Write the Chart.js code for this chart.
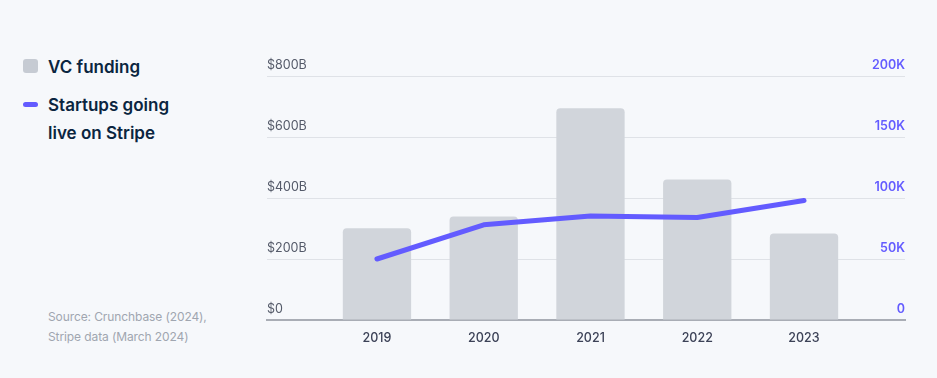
<!DOCTYPE html>
<html>
<head>
<meta charset="utf-8">
<script src="https://cdn.jsdelivr.net/npm/chart.js@4.4.1/dist/chart.umd.min.js"></script>
<style>
  html, body { margin: 0; padding: 0; }
  body { width: 937px; height: 378px; background: #f6f8fb; position: relative; overflow: hidden; font-family: Inter, "Noto Sans", sans-serif; }
  #wrap { position: absolute; left: 0; top: 0; width: 937px; height: 378px; }
  .legend-box { position: absolute; left: 23px; top: 59px; width: 15px; height: 14px; border-radius: 3px; background: #c6cbd3; }
  .legend-line { position: absolute; left: 23px; top: 101.5px; width: 15px; height: 5px; border-radius: 3px; background: #635bff; }
  .legend-text { position: absolute; left: 48px; font-size: 17px; font-weight: 600; line-height: 28px; color: #0a2540; white-space: nowrap; }
  .source { position: absolute; left: 48px; top: 306.5px; font-size: 12px; letter-spacing: -0.1px; line-height: 20px; color: #a0a6b0; white-space: nowrap; }
</style>
</head>
<body>
<div class="legend-box"></div>
<div class="legend-text" style="top:53px">VC funding</div>
<div class="legend-line"></div>
<div class="legend-text" style="top:90.5px">Startups going<br>live on Stripe</div>
<div class="source">Source: Crunchbase (2024),<br>Stripe data (March 2024)</div>
<div id="wrap"><canvas id="c" width="937" height="378"></canvas></div>
<script>
const years = [2019, 2020, 2021, 2022, 2023];
const vcFunding = [301, 339, 694, 461, 284];          // $B
const startupsLive = [50, 78, 85.2, 84, 98];          // thousands
const leftTickLabels = ['$0', '$200B', '$400B', '$600B', '$800B'];
const rightTickLabels = ['0', '50K', '100K', '150K', '200K'];

function build() {
  const ctx = document.getElementById('c');
  new Chart(ctx, {
    type: 'bar',
    data: {
      datasets: [
        {
          type: 'line',
          label: 'Startups going live on Stripe',
          data: years.map((y, i) => ({ x: y, y: startupsLive[i] })),
          yAxisID: 'y1',
          borderColor: '#635bff',
          borderWidth: 5,
          pointRadius: 0,
          tension: 0,
          borderCapStyle: 'round',
          borderJoinStyle: 'round',
          order: 0
        },
        {
          type: 'bar',
          label: 'VC funding',
          data: years.map((y, i) => ({ x: y, y: vcFunding[i] })),
          yAxisID: 'y',
          backgroundColor: '#d1d5db',
          borderRadius: { topLeft: 4, topRight: 4, bottomLeft: 0, bottomRight: 0 },
          borderSkipped: 'bottom',
          barPercentage: 0.64,
          categoryPercentage: 1,
          order: 1
        }
      ]
    },
    options: {
      responsive: false,
      animation: false,
      layout: { padding: { left: 267, right: 32, top: 76, bottom: 29 } },
      plugins: { legend: { display: false }, tooltip: { enabled: false } },
      scales: {
        x: {
          type: 'linear',
          min: 2017.97,
          max: 2023.946,
          offset: false,
          z: 1,
          afterBuildTicks: (s) => { s.ticks = years.map(v => ({ value: v })); },
          grid: { display: false },
          border: { display: true, color: '#a9adb5', width: 2 },
          ticks: {
            autoSkip: false, maxRotation: 0, padding: 3,
            color: '#3c4257',
            font: { family: 'Inter', size: 12.5, weight: '500' },
            callback: (v) => String(v)
          }
        },
        y: {
          position: 'left',
          min: 0, max: 800,
          grid: { color: '#dfe2e7', lineWidth: 1, drawTicks: false },
          border: { display: false },
          ticks: {
            stepSize: 200, mirror: true, padding: 0, labelOffset: -11,
            color: '#545a69',
            font: { family: 'Inter', size: 12.5, weight: '400' },
            callback: (v, i) => leftTickLabels[i]
          }
        },
        y1: {
          position: 'right',
          min: 0, max: 200,
          grid: { display: false, drawTicks: false },
          border: { display: false },
          ticks: {
            stepSize: 50, mirror: true, padding: 0, labelOffset: -11,
            color: '#635bff',
            font: { family: 'Inter', size: 12.5, weight: '600' },
            callback: (v, i) => rightTickLabels[i]
          }
        }
      }
    }
  });
}

Promise.all([
  document.fonts.load('400 12.5px Inter'),
  document.fonts.load('500 12.5px Inter'),
  document.fonts.load('600 12.5px Inter'),
  document.fonts.load('600 17px Inter')
]).then(build, build);
</script>
</body>
</html>
